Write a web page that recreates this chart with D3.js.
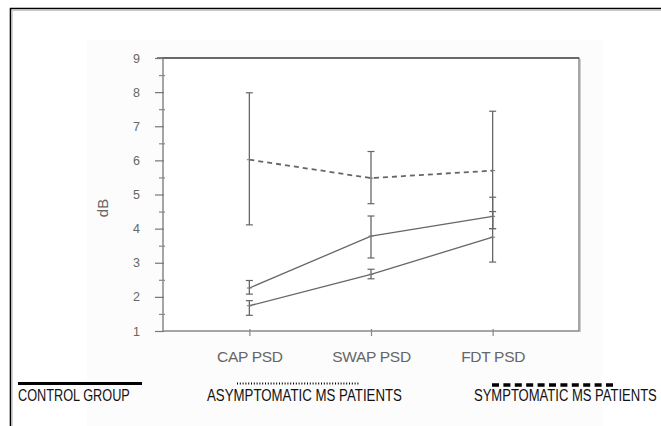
<!DOCTYPE html>
<html><head><meta charset="utf-8">
<script src="https://cdn.jsdelivr.net/npm/d3@7"></script>
<style>body{margin:0;background:#fff}svg{display:block}</style>
</head><body><svg id="c" width="661" height="426"></svg>
<script>
const categories = ["CAP PSD", "SWAP PSD", "FDT PSD"];
const yTicks = [1, 2, 3, 4, 5, 6, 7, 8, 9];
const yMinorTicks = [1.5, 2.5, 3.5, 4.5, 5.5, 6.5, 7.5, 8.5];
const controlMean = [1.74, 2.66, 3.75];
const controlLo = [1.46, 2.53, 3.02];
const controlHi = [1.89, 2.81, 4.5];
const asymMean = [2.26, 3.78, 4.36];
const asymLo = [2.08, 3.14, 4.0];
const asymHi = [2.48, 4.37, 4.92];
const sympMean = [6.02, 5.48, 5.7];
const sympLo = [4.11, 4.73, 4.0];
const sympHi = [7.98, 6.26, 7.44];
const legendLabels = ["CONTROL GROUP", "ASYMPTOMATIC MS PATIENTS", "SYMPTOMATIC MS PATIENTS"];
const yLabel = "dB";

const svg = d3.select("#c");
const L = 163, R = 579, T = 58, B = 331;

// faint scan background
svg.append("rect").attr("x", 87).attr("y", 40).attr("width", 515).attr("height", 386).attr("fill", "#fcfcfc");

// outer frame (top + left)
svg.append("line").attr("x1", 10).attr("x2", 661).attr("y1", 8.5).attr("y2", 8.5).attr("stroke", "#000").attr("stroke-width", 1.6);
svg.append("line").attr("x1", 10.5).attr("x2", 10.5).attr("y1", 8).attr("y2", 426).attr("stroke", "#000").attr("stroke-width", 1.6);
svg.append("line").attr("x1", 12).attr("x2", 661).attr("y1", 10.3).attr("y2", 10.3).attr("stroke", "#bbb").attr("stroke-width", 1);
svg.append("line").attr("x1", 12.3).attr("x2", 12.3).attr("y1", 10).attr("y2", 426).attr("stroke", "#ccc").attr("stroke-width", 1);

const x = d3.scalePoint().domain(categories).range([L, R]).padding(0.71);
const y = d3.scaleLinear().domain([1, 9]).range([B, T]);

// plot box
svg.append("rect").attr("x", L).attr("y", T).attr("width", R - L).attr("height", B - T)
  .attr("fill", "#fff").attr("stroke", "#888").attr("stroke-width", 1.5);
svg.append("line").attr("x1", R + 1.5).attr("x2", R + 1.5).attr("y1", T + 1).attr("y2", B + 1).attr("stroke", "#ccc").attr("stroke-width", 1);
svg.append("line").attr("x1", L - 6).attr("x2", R).attr("y1", T).attr("y2", T).attr("stroke", "#555").attr("stroke-width", 1.6);

// y axis
const yAxis = d3.axisLeft(y).tickValues(yTicks).tickSize(8).tickPadding(15).tickSizeOuter(0).tickFormat(d3.format("d"));
const gy = svg.append("g").attr("transform", `translate(${L},0)`).call(yAxis);
gy.select(".domain").remove();
gy.selectAll(".tick line").attr("stroke", "#777").attr("stroke-width", 1.2).attr("x2", -8).attr("x1", 1);
gy.selectAll(".tick text").attr("fill", "#666").attr("font-family", "Liberation Sans, Arial, sans-serif").attr("font-size", 12.5);
const yMinor = d3.axisLeft(y).tickValues(yMinorTicks).tickSize(4).tickFormat("").tickSizeOuter(0);
const gym = svg.append("g").attr("transform", `translate(${L},0)`).call(yMinor);
gym.select(".domain").remove();
gym.selectAll(".tick line").attr("stroke", "#888").attr("stroke-width", 1.2).attr("x1", 2);

// x axis
const xAxis = d3.axisBottom(x).tickSize(5).tickPadding(15).tickSizeOuter(0);
const gx = svg.append("g").attr("transform", `translate(0,${B})`).call(xAxis);
gx.select(".domain").remove();
gx.selectAll(".tick line").attr("stroke", "#888").attr("stroke-width", 1.2).attr("y1", -2);
gx.selectAll(".tick text").attr("fill", "#666").attr("font-family", "Liberation Sans, Arial, sans-serif").attr("font-size", 15.5).attr("letter-spacing", -0.3);

// y label
svg.append("text").attr("transform", `translate(108,208) rotate(-90)`).attr("text-anchor", "middle")
  .attr("fill", "#666").attr("font-family", "Liberation Sans, Arial, sans-serif").attr("font-size", 15).text(yLabel);

// series
const series = [
  {mean: controlMean, lo: controlLo, hi: controlHi, dash: null},
  {mean: asymMean, lo: asymLo, hi: asymHi, dash: null},
  {mean: sympMean, lo: sympLo, hi: sympHi, dash: "5,4"}
];
const line = d3.line().x((d, i) => x(categories[i])).y(d => y(d));
const gs = svg.append("g");
series.forEach(s => {
  gs.append("path").attr("d", line(s.mean)).attr("fill", "none").attr("stroke", "#666")
    .attr("stroke-width", s.dash ? 1.8 : 1.3).attr("stroke-dasharray", s.dash);
  categories.forEach((c, i) => {
    const cx = x(c);
    gs.append("line").attr("x1", cx).attr("x2", cx).attr("y1", y(s.lo[i])).attr("y2", y(s.hi[i])).attr("stroke", "#666").attr("stroke-width", 1.3);
    [s.lo[i], s.hi[i]].forEach(v => {
      gs.append("line").attr("x1", cx - 3.5).attr("x2", cx + 3.5).attr("y1", y(v)).attr("y2", y(v)).attr("stroke", "#666").attr("stroke-width", 1.2);
    });
    gs.append("line").attr("x1", cx - 2.5).attr("x2", cx + 2.5).attr("y1", y(s.mean[i])).attr("y2", y(s.mean[i])).attr("stroke", "#777").attr("stroke-width", 1);
  });
});

// legend
const lf = "'Liberation Sans Narrow', 'Arial Narrow', 'Liberation Sans', sans-serif";
const legend = [
  {x1: 18, x2: 142, ly: 383.5, sw: 3, dash: null, tx: 18, tl: 112},
  {x1: 237, x2: 360, ly: 383.5, sw: 2, dash: "1,1.8", tx: 207, tl: 195},
  {x1: 492, x2: 616, ly: 385, sw: 3.5, dash: "7,4.4", tx: 474, tl: 183}
];
legend.forEach((d, i) => {
  svg.append("line").attr("x1", d.x1).attr("x2", d.x2).attr("y1", d.ly).attr("y2", d.ly)
    .attr("stroke", "#000").attr("stroke-width", d.sw).attr("stroke-dasharray", d.dash);
  const t = svg.append("text").attr("x", 0).attr("y", 0).attr("font-family", lf).attr("font-size", 16)
    .attr("fill", "#111").text(legendLabels[i]);
  const w = t.node().getComputedTextLength();
  t.attr("transform", `translate(${d.tx},401) scale(${d.tl / w},1)`);
});
</script></body></html>
